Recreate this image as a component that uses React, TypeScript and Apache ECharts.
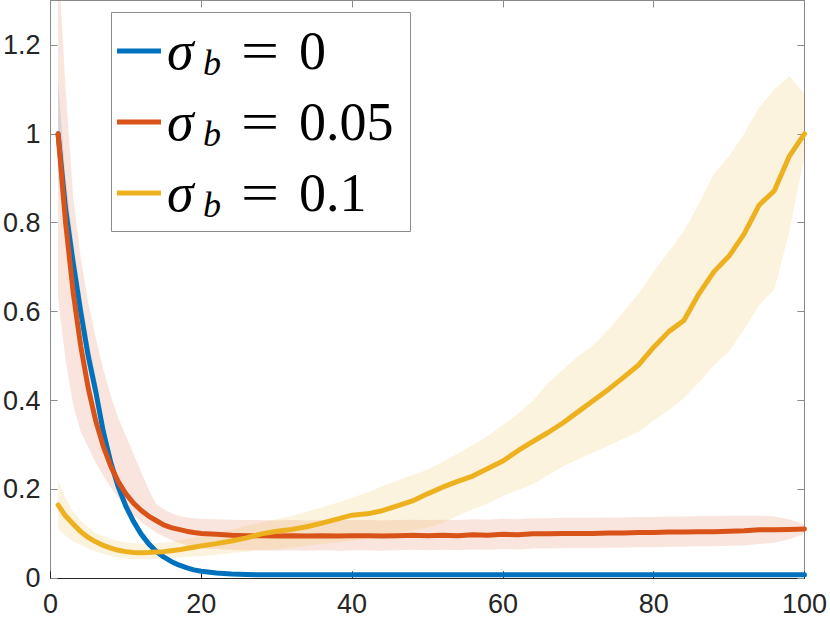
import React, { useEffect, useRef } from "react";
import * as echarts from "echarts";

// x grid (time steps)
const X = [
  1, 2, 3, 4, 5, 6, 7, 8, 9, 10, 11, 12, 13, 14, 15, 16, 17, 18, 19, 20,
  22, 24, 26, 28, 30, 32, 34, 36, 38, 40, 42, 44, 46, 48, 50, 52, 54, 56, 58, 60,
  62, 64, 66, 68, 70, 72, 74, 76, 78, 80, 82, 84, 86, 88, 90, 92, 94, 96, 98, 100,
];

// sigma_b = 0
const BLUE = [
  1.0, 0.83, 0.71, 0.6, 0.5, 0.42, 0.33, 0.26, 0.205, 0.162, 0.128, 0.1, 0.078, 0.061, 0.048, 0.038, 0.03, 0.024, 0.019, 0.016,
  0.012, 0.0095, 0.0085, 0.008, 0.008, 0.008, 0.008, 0.008, 0.008, 0.008, 0.008, 0.008, 0.008, 0.008, 0.008, 0.008, 0.008, 0.008, 0.008, 0.008,
  0.008, 0.008, 0.008, 0.008, 0.008, 0.008, 0.008, 0.008, 0.008, 0.008, 0.008, 0.008, 0.008, 0.008, 0.008, 0.008, 0.008, 0.008, 0.008, 0.008,
];
const BLUE_UP = [
  1.12, 0.9, 0.76, 0.64, 0.535, 0.45, 0.355, 0.282, 0.223, 0.177, 0.14, 0.11, 0.086, 0.067, 0.053, 0.042, 0.033, 0.026, 0.021, 0.017,
  0.013, 0.01, 0.009, 0.0085, 0.0085, 0.0085, 0.0085, 0.0085, 0.0085, 0.0085, 0.0085, 0.0085, 0.0085, 0.0085, 0.0085, 0.0085, 0.0085, 0.0085, 0.0085, 0.0085,
  0.0085, 0.0085, 0.0085, 0.0085, 0.0085, 0.0085, 0.0085, 0.0085, 0.0085, 0.0085, 0.0085, 0.0085, 0.0085, 0.0085, 0.0085, 0.0085, 0.0085, 0.0085, 0.0085, 0.0085,
];
const BLUE_LO = [
  0.9, 0.77, 0.665, 0.565, 0.47, 0.395, 0.308, 0.24, 0.188, 0.148, 0.117, 0.091, 0.071, 0.056, 0.044, 0.035, 0.027, 0.022, 0.017, 0.015,
  0.011, 0.009, 0.008, 0.0075, 0.0075, 0.0075, 0.0075, 0.0075, 0.0075, 0.0075, 0.0075, 0.0075, 0.0075, 0.0075, 0.0075, 0.0075, 0.0075, 0.0075, 0.0075, 0.0075,
  0.0075, 0.0075, 0.0075, 0.0075, 0.0075, 0.0075, 0.0075, 0.0075, 0.0075, 0.0075, 0.0075, 0.0075, 0.0075, 0.0075, 0.0075, 0.0075, 0.0075, 0.0075, 0.0075, 0.0075,
];

// sigma_b = 0.05
const RED = [
  1.0, 0.8, 0.644, 0.523, 0.428, 0.354, 0.297, 0.252, 0.217, 0.19, 0.169, 0.153, 0.14, 0.13, 0.12, 0.114, 0.11, 0.106, 0.103, 0.101,
  0.099, 0.097, 0.096, 0.096, 0.095, 0.096, 0.095, 0.096, 0.095, 0.096, 0.096, 0.095, 0.096, 0.097, 0.096, 0.097, 0.096, 0.098, 0.097, 0.099,
  0.098, 0.1, 0.1, 0.101, 0.101, 0.101, 0.102, 0.102, 0.103, 0.103, 0.104, 0.104, 0.105, 0.105, 0.106, 0.107, 0.109, 0.109, 0.11, 0.111,
];
const RED_UP = [
  1.4, 1.1, 0.86, 0.72, 0.62, 0.54, 0.47, 0.41, 0.36, 0.32, 0.28, 0.24, 0.2, 0.168, 0.155, 0.147, 0.141, 0.137, 0.135, 0.134,
  0.133, 0.132, 0.131, 0.131, 0.13, 0.131, 0.13, 0.131, 0.13, 0.131, 0.131, 0.13, 0.131, 0.132, 0.131, 0.132, 0.131, 0.133, 0.132, 0.134,
  0.133, 0.135, 0.135, 0.136, 0.136, 0.136, 0.137, 0.137, 0.138, 0.138, 0.139, 0.139, 0.14, 0.14, 0.141, 0.141, 0.141, 0.139, 0.133, 0.121,
];
const RED_LO = [
  0.63, 0.49, 0.39, 0.33, 0.295, 0.26, 0.23, 0.205, 0.18, 0.16, 0.142, 0.127, 0.115, 0.103, 0.094, 0.086, 0.08, 0.075, 0.07, 0.067,
  0.066, 0.064, 0.063, 0.063, 0.062, 0.063, 0.062, 0.063, 0.062, 0.063, 0.063, 0.062, 0.063, 0.064, 0.063, 0.064, 0.063, 0.065, 0.064, 0.066,
  0.065, 0.067, 0.067, 0.068, 0.068, 0.068, 0.069, 0.069, 0.07, 0.07, 0.071, 0.071, 0.072, 0.072, 0.073, 0.074, 0.077, 0.08, 0.088, 0.101,
];

// sigma_b = 0.1
const YEL = [
  0.165, 0.14, 0.122, 0.105, 0.092, 0.082, 0.074, 0.068, 0.063, 0.06, 0.058, 0.0575, 0.058, 0.059, 0.06, 0.062, 0.064, 0.067, 0.07, 0.073,
  0.078, 0.084, 0.091, 0.1, 0.106, 0.11, 0.116, 0.124, 0.133, 0.142, 0.145, 0.152, 0.163, 0.174, 0.19, 0.205, 0.218, 0.23, 0.247, 0.264,
  0.287, 0.308, 0.328, 0.35, 0.375, 0.4, 0.425, 0.452, 0.48, 0.52, 0.555, 0.58, 0.64, 0.69, 0.725, 0.775, 0.84, 0.872, 0.95, 1.0,
];
const YEL_UP = [
  0.22, 0.18, 0.15, 0.13, 0.115, 0.102, 0.094, 0.088, 0.084, 0.081, 0.079, 0.078, 0.078, 0.079, 0.08, 0.082, 0.085, 0.088, 0.091, 0.094,
  0.102, 0.11, 0.118, 0.126, 0.133, 0.141, 0.15, 0.16, 0.17, 0.181, 0.193, 0.207, 0.22, 0.232, 0.245, 0.262, 0.28, 0.3, 0.32, 0.345,
  0.37, 0.4, 0.44, 0.47, 0.5, 0.525, 0.56, 0.6, 0.64, 0.69, 0.735, 0.78, 0.843, 0.91, 0.95, 1.0, 1.06, 1.1, 1.13, 1.09,
];
const YEL_LO = [
  0.112, 0.095, 0.083, 0.075, 0.067, 0.06, 0.055, 0.05, 0.047, 0.045, 0.043, 0.043, 0.043, 0.044, 0.045, 0.046, 0.047, 0.048, 0.049, 0.05,
  0.053, 0.057, 0.06, 0.063, 0.066, 0.069, 0.073, 0.077, 0.081, 0.085, 0.09, 0.096, 0.102, 0.108, 0.114, 0.125, 0.14, 0.155, 0.168, 0.185,
  0.198, 0.212, 0.232, 0.252, 0.268, 0.283, 0.298, 0.314, 0.33, 0.355, 0.378, 0.405, 0.44, 0.48, 0.51, 0.56, 0.615, 0.65, 0.78, 0.95,
];

const LEGEND_VALUES = ["0", "0.05", "0.1"];
const COLORS = ["#0072BD", "#D95319", "#EDB120"];
const X_TICK_INTERVAL = 20;
const Y_TICK_INTERVAL = 0.2;

const pairs = (ys: number[]) => X.map((x, i) => [x, ys[i]]);
const SERIF = "'Liberation Serif', 'Times New Roman', 'DejaVu Serif', serif";
const SANS = "'Liberation Sans', Arial, Helvetica, sans-serif";

export default function App() {
  const ref = useRef<HTMLDivElement>(null);
  useEffect(() => {
    if (!ref.current) return;
    const chart = echarts.init(ref.current, undefined, { renderer: "svg" });
    const bands = [
      [BLUE_UP, BLUE_LO],
      [RED_UP, RED_LO],
      [YEL_UP, YEL_LO],
    ];
    const bandSeries: any[] = bands.map(([up, lo], k) => ({
      type: "custom",
      data: [0],
      silent: true,
      z: 1,
      renderItem: (params: any, api: any) => {
        const top = X.map((x, i) => api.coord([x, up[i]]));
        const bottom = X.map((x, i) => api.coord([x, lo[i]])).reverse();
        const cs = params.coordSys;
        return {
          type: "polygon",
          shape: { points: [...top, ...bottom] },
          style: { fill: COLORS[k], opacity: 0.15, stroke: "none" },
          clipPath: {
            type: "rect",
            shape: { x: cs.x, y: cs.y, width: cs.width, height: cs.height },
          },
        };
      },
    }));
    const lineSeries = [BLUE, RED, YEL].map((ys, k) => ({
      type: "line",
      name: "σb = " + LEGEND_VALUES[k],
      data: pairs(ys),
      showSymbol: false,
      lineStyle: { color: COLORS[k], width: 5, cap: "round", join: "round" },
      z: 3,
    }));

    const mk = (text: string, x: number, y: number, size: number, italic: boolean, extra: any = {}) => ({
      type: "text",
      x,
      y,
      ...extra,
      style: {
        text,
        font: (italic ? "italic " : "") + size + "px " + SERIF,
        fill: "#000",
        align: extra.center ? "center" : "left",
        verticalAlign: "alphabetic",
      },
      z: 101,
    });

    const legendGraphics: any[] = [
      {
        type: "rect",
        shape: { x: 111.5, y: 12.5, width: 299, height: 219 },
        style: { fill: "#ffffff", stroke: "#8c8c8c", lineWidth: 1 },
        z: 100,
      },
    ];
    LEGEND_VALUES.forEach((v, i) => {
      const cy = 51 + 71 * i;
      legendGraphics.push({
        type: "line",
        shape: { x1: 117, y1: cy, x2: 161, y2: cy },
        style: { stroke: COLORS[i], lineWidth: 5 },
        z: 101,
      });
      legendGraphics.push({
        type: "text",
        x: 167,
        y: cy,
        style: {
          text: "σ",
          fontFamily: SERIF,
          fontStyle: "italic",
          fontSize: 54,
          fill: "#000",
          align: "left",
          verticalAlign: "middle",
        },
        z: 101,
      });
      legendGraphics.push({
        type: "text",
        x: 203,
        y: cy + 12,
        style: {
          text: "b",
          fontFamily: SERIF,
          fontStyle: "italic",
          fontSize: 36,
          fill: "#000",
          align: "left",
          verticalAlign: "middle",
        },
        z: 101,
      });
      legendGraphics.push({
        type: "text",
        x: 260,
        y: cy,
        scaleX: 1.25,
        style: {
          text: "=",
          fontFamily: SERIF,
          fontSize: 54,
          fill: "#000",
          align: "center",
          verticalAlign: "middle",
        },
        z: 101,
      });
      legendGraphics.push({
        type: "text",
        x: 299,
        y: cy,
        style: {
          text: v,
          fontFamily: SERIF,
          fontSize: 54,
          fill: "#000",
          align: "left",
          verticalAlign: "middle",
        },
        z: 101,
      });
    });

    const labelFont = { color: "#262626", fontSize: 27, fontFamily: SANS };
    chart.setOption({
      animation: false,
      backgroundColor: "#ffffff",
      grid: { left: 50, right: 24.3, top: 0.5, bottom: 44.7, containLabel: false },
      xAxis: [
        {
          type: "value",
          min: 0,
          max: 100,
          interval: X_TICK_INTERVAL,
          position: "bottom",
          axisLine: { show: true, onZero: false, lineStyle: { color: "#262626", width: 1 } },
          axisTick: { show: true, inside: true, length: 7, lineStyle: { color: "#262626" } },
          axisLabel: { ...labelFont, margin: 12 },
          splitLine: { show: false },
        },
        {
          type: "value",
          min: 0,
          max: 100,
          interval: X_TICK_INTERVAL,
          position: "top",
          axisLine: { show: true, onZero: false, lineStyle: { color: "#8a8a8a", width: 1 } },
          axisTick: { show: true, inside: true, length: 7, lineStyle: { color: "#8a8a8a" } },
          axisLabel: { show: false },
          splitLine: { show: false },
        },
      ],
      yAxis: [
        {
          type: "value",
          min: 0,
          max: 1.3,
          interval: Y_TICK_INTERVAL,
          position: "left",
          axisLine: { show: true, onZero: false, lineStyle: { color: "#8a8a8a", width: 1 } },
          axisTick: { show: true, inside: true, length: 7, lineStyle: { color: "#8a8a8a" } },
          axisLabel: {
            ...labelFont,
            margin: 10,
            formatter: (v: number) => (v > 1.25 ? "" : String(Math.round(v * 10) / 10)),
          },
          splitLine: { show: false },
        },
        {
          type: "value",
          min: 0,
          max: 1.3,
          interval: Y_TICK_INTERVAL,
          position: "right",
          axisLine: { show: true, onZero: false, lineStyle: { color: "#8a8a8a", width: 1 } },
          axisTick: { show: true, inside: true, length: 7, lineStyle: { color: "#8a8a8a" } },
          axisLabel: { show: false },
          splitLine: { show: false },
        },
      ],
      series: [...bandSeries, ...lineSeries],
      graphic: legendGraphics,
    });
    return () => chart.dispose();
  }, []);
  return (
    <div
      ref={ref}
      style={{ position: "absolute", left: 0, top: 0, width: 830, height: 623, background: "#fff" }}
    />
  );
}
